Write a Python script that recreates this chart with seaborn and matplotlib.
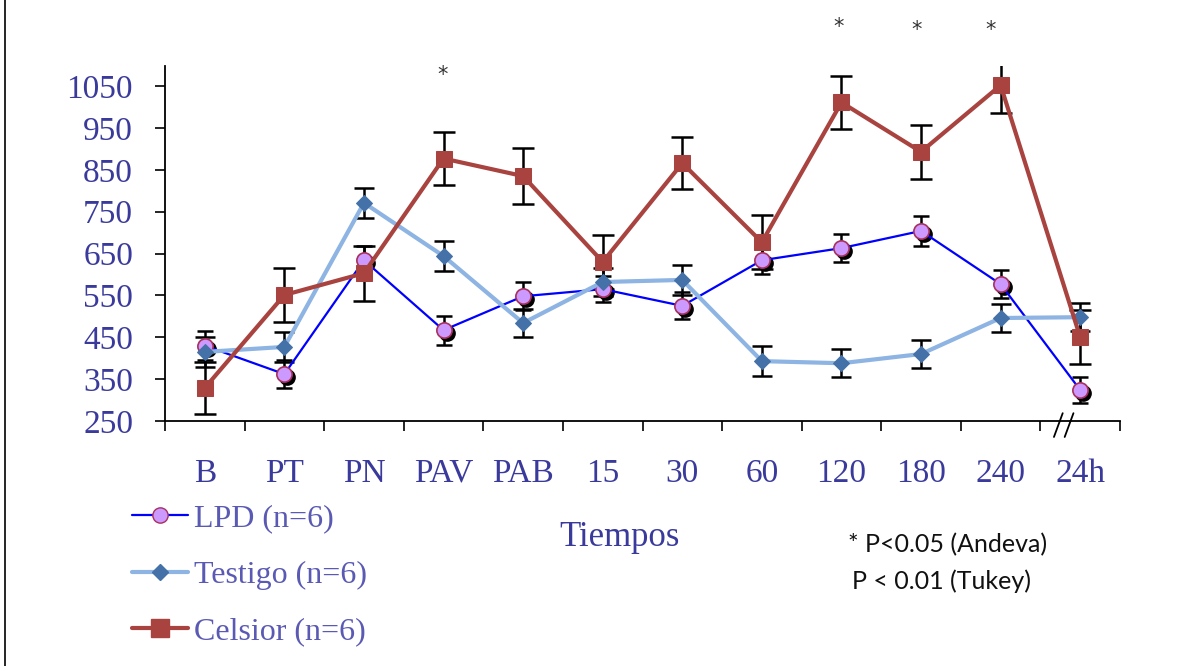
import numpy as np
import pandas as pd
import matplotlib
matplotlib.use("Agg")
import matplotlib.pyplot as plt
import matplotlib.transforms as mtransforms
from matplotlib.lines import Line2D
import seaborn as sns

sns.set_theme(style="white")
plt.rcParams['font.family'] = ['Liberation Serif', 'DejaVu Serif']

# data
tiempos = ['B', 'PT', 'PN', 'PAV', 'PAB', '15', '30', '60', '120', '180', '240', '24h']
lpd = [430, 362, 634, 467, 548, 565, 525, 634, 663, 704, 577, 324]
lpd_err = [34, 33, 34, 35, 34, 31, 32, 33, 33, 36, 33, 32]
testigo = [415, 427, 771, 644, 484, 582, 587, 393, 388, 410, 496, 498]
testigo_err = [35, 35, 35, 35, 34, 33, 35, 35, 33, 33, 33, 33]
celsior = [329, 551, 603, 877, 835, 630, 866, 677, 1011, 893, 1052, 450]
celsior_err = [62, 65, 66, 63, 66, 64, 63, 65, 64, 65, 67, 64]

# significance marks (x position, y position)
star_x = [2.99, 7.96, 8.95, 9.88]
star_y = [1076, 1191, 1184, 1184]

pos = np.arange(len(tiempos))
df = pd.DataFrame({'pos': pos, 'LPD': lpd, 'Testigo': testigo, 'Celsior': celsior})

text_col = '#3a3a9c'
legend_col = '#5a5ab4'
c_lpd, c_lpd_face, c_lpd_edge = '#0000ff', '#cc99ff', '#a8305e'
c_test, c_test_mk = '#8db4e2', '#4472a8'
c_cel = '#a9433f'

fig = plt.figure(figsize=(11.8, 6.66), dpi=100)
ax = fig.add_axes([165 / 1180, 1 - 421 / 666, (1120 - 165) / 1180, (421 - 66) / 666])

# error bars (drawn under markers)
eb = dict(fmt='none', ecolor='black', elinewidth=1.8, capthick=1.8, zorder=2)
ax.errorbar(pos, lpd, yerr=lpd_err, capsize=6, **eb)
ax.errorbar(pos, testigo, yerr=testigo_err, capsize=7, **eb)
ax.errorbar(pos, celsior, yerr=celsior_err, capsize=8, **eb)

# LPD: blue line, pink circles with a black shadow
shadow = ax.transData + mtransforms.ScaledTranslation(3 / 100, -3 / 100, fig.dpi_scale_trans)
ax.plot(pos, lpd, 'o', color='black', markersize=11, transform=shadow, zorder=3)
sns.lineplot(data=df, x='pos', y='LPD', ax=ax, color=c_lpd, linewidth=1.6,
             marker='o', markersize=11, markerfacecolor=c_lpd_face,
             markeredgecolor=c_lpd_edge, markeredgewidth=1.2, zorder=4)
sns.lineplot(data=df, x='pos', y='Testigo', ax=ax, color=c_test, linewidth=3,
             marker='D', markersize=8.5, markerfacecolor=c_test_mk,
             markeredgecolor=c_test_mk, zorder=5)
sns.lineplot(data=df, x='pos', y='Celsior', ax=ax, color=c_cel, linewidth=3,
             marker='s', markersize=11, markerfacecolor=c_cel,
             markeredgecolor=c_cel, zorder=6)

ax.set_xlim(-0.5, len(tiempos) - 0.5)
ax.set_ylim(250, 1098)
ax.set_yticks(np.arange(250, 1051, 100))
ax.set_xticks(np.arange(-0.5, len(tiempos), 1.0))
ax.set_xticklabels([])
ax.set_xticks(pos, minor=True)
ax.set_xticklabels(tiempos, minor=True)
ax.set_xlabel('')
ax.set_ylabel('')

ax.tick_params(axis='y', which='major', direction='out', length=7, width=1.2,
               color='black', pad=16, labelsize=24, labelcolor=text_col, left=True)
ax.tick_params(axis='x', which='major', direction='out', length=7, width=1.2,
               color='black', bottom=True)
ax.tick_params(axis='x', which='minor', length=0, pad=27, labelsize=24,
               labelcolor=text_col, bottom=True)

for s in ['top', 'right']:
    ax.spines[s].set_visible(False)
for s in ['left', 'bottom']:
    ax.spines[s].set_color('black')
    ax.spines[s].set_linewidth(1.3)
ax.grid(False)

# axis break "//" between 240 and 24h
brk = ax.get_xaxis_transform()
for dx in (0, 0.135):
    ax.plot([10.67 + dx, 10.78 + dx], [-0.045, 0.022], color='black', lw=1.3,
            transform=brk, clip_on=False, zorder=7)

for x, y in zip(star_x, star_y):
    ax.text(x, y, '*', ha='center', va='center', fontsize=15, color='#333333',
            family=['DejaVu Sans'], clip_on=False)

fig.text(620 / 1180, 1 - 537 / 666, 'Tiempos', ha='center', va='center',
         fontsize=25, color=text_col)

handles = [
    Line2D([], [], color=c_lpd, lw=1.6, marker='o', markersize=11,
           markerfacecolor=c_lpd_face, markeredgecolor=c_lpd_edge),
    Line2D([], [], color=c_test, lw=3, marker='D', markersize=8.5,
           markerfacecolor=c_test_mk, markeredgecolor=c_test_mk),
    Line2D([], [], color=c_cel, lw=3, marker='s', markersize=13,
           markerfacecolor=c_cel, markeredgecolor=c_cel),
]
leg = fig.legend(handles, ['LPD (n=6)', 'Testigo (n=6)', 'Celsior (n=6)'],
                 loc='upper left', bbox_to_anchor=(132 / 1180, 1 - 504 / 666),
                 frameon=False, fontsize=23, handlelength=1.75, handletextpad=0.2,
                 labelspacing=0.85, borderpad=0, borderaxespad=0)
for t in leg.get_texts():
    t.set_color(legend_col)

fig.text(848 / 1180, 1 - 545 / 666, '* P<0.05 (Andeva)', ha='left', va='center',
         fontsize=18, color='#111111', family=['Lato', 'DejaVu Sans'])
fig.text(852 / 1180, 1 - 581 / 666, 'P < 0.01 (Tukey)', ha='left', va='center',
         fontsize=18, color='#111111', family=['Lato', 'DejaVu Sans'])

# left frame line
fig.add_artist(Line2D([5 / 1180, 5 / 1180], [0, 1], color='black', lw=1.2))

fig.savefig('out.png', dpi=100)
